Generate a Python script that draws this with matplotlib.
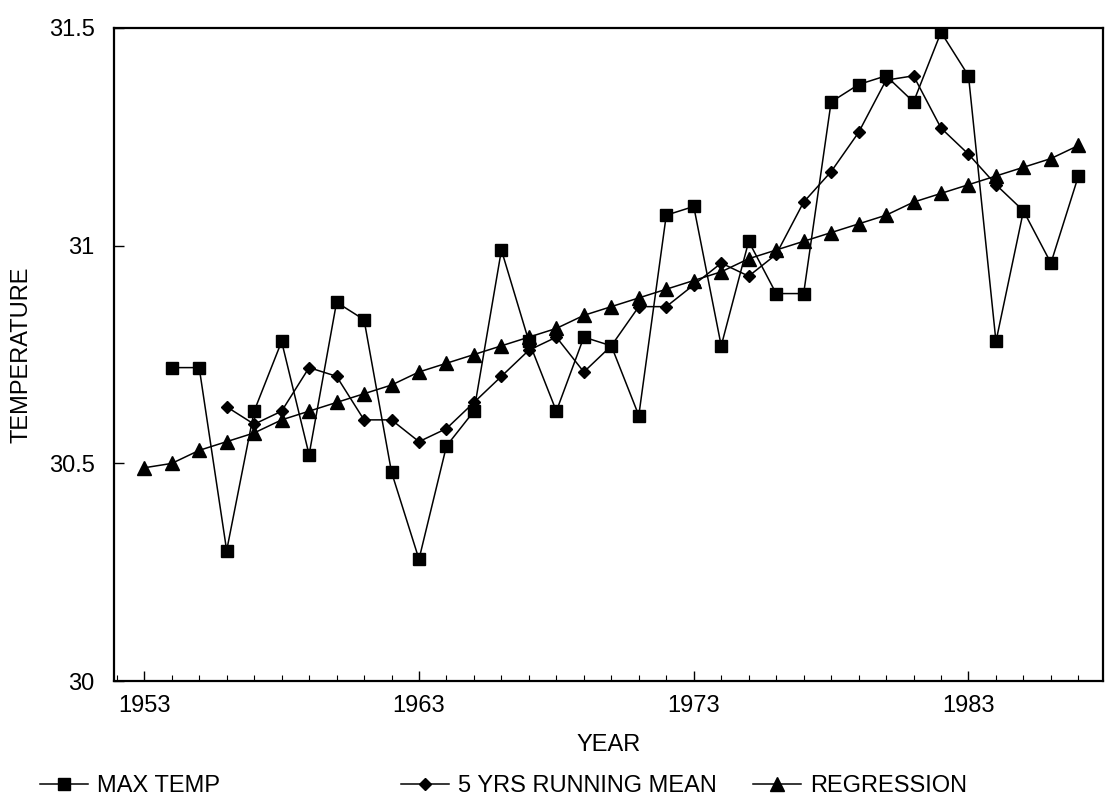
import matplotlib.pyplot as plt
from matplotlib.ticker import MultipleLocator

plt.rcParams['font.family'] = ['Liberation Sans', 'DejaVu Sans']

# years and series
years_max = list(range(1954, 1988))
max_temp = [30.72, 30.72, 30.30, 30.62, 30.78, 30.52, 30.87, 30.83, 30.48, 30.28,
            30.54, 30.62, 30.99, 30.78, 30.62, 30.79, 30.77, 30.61, 31.07, 31.09,
            30.77, 31.01, 30.89, 30.89, 31.33, 31.37, 31.39, 31.33, 31.49, 31.39,
            30.78, 31.08, 30.96, 31.16]

years_mean = list(range(1956, 1986))
running_mean = [30.63, 30.59, 30.62, 30.72, 30.70, 30.60, 30.60, 30.55, 30.58, 30.64,
                30.70, 30.76, 30.79, 30.71, 30.77, 30.86, 30.86, 30.91, 30.96, 30.93,
                30.98, 31.10, 31.17, 31.26, 31.38, 31.39, 31.27, 31.21, 31.14, 31.08]

years_reg = list(range(1953, 1988))
regression = [30.49, 30.50, 30.53, 30.55, 30.57, 30.60, 30.62, 30.64, 30.66, 30.68,
              30.71, 30.73, 30.75, 30.77, 30.79, 30.81, 30.84, 30.86, 30.88, 30.90,
              30.92, 30.94, 30.97, 30.99, 31.01, 31.03, 31.05, 31.07, 31.10, 31.12,
              31.14, 31.16, 31.18, 31.20, 31.23]

xticks = [1953, 1963, 1973, 1983]
yticks = [30, 30.5, 31, 31.5]
ytick_labels = ['30', '30.5', '31', '31.5']

fig = plt.figure(figsize=(11.07, 8.09), dpi=100)
ax = fig.add_axes([0.103, 0.158, 0.8935, 0.8075])

l1, = ax.plot(years_max, max_temp, color='black', lw=1.1, marker='s', ms=8.5,
              label='MAX TEMP')
l2, = ax.plot(years_mean, running_mean, color='black', lw=1.1, marker='D', ms=6.5,
              label='5 YRS RUNNING MEAN')
l3, = ax.plot(years_reg, regression, color='black', lw=1.1, marker='^', ms=9.5,
              label='REGRESSION')

ax.set_xlim(1951.9, 1987.9)
ax.set_ylim(30, 31.5)
ax.set_xticks(xticks)
ax.set_xticklabels([str(y) for y in xticks])
ax.xaxis.set_minor_locator(MultipleLocator(1))
ax.set_yticks(yticks)
ax.set_yticklabels(ytick_labels)
ax.tick_params(axis='both', which='major', direction='in', length=7, width=1,
               labelsize=17, pad=10)
ax.tick_params(axis='y', which='major', pad=14)
ax.tick_params(axis='x', which='minor', direction='in', length=4, width=0.8)

for s in ax.spines.values():
    s.set_linewidth(1.6)

ax.set_xlabel('YEAR', fontsize=17, labelpad=12)
ax.set_ylabel('TEMPERATURE', fontsize=17, labelpad=12)

# legend entries spread along the bottom, each placed on its own
for h, xpos in [(l1, 0.028), (l2, 0.354), (l3, 0.672)]:
    fig.legend(handles=[h], loc='center left', bbox_to_anchor=(xpos, 0.028),
               frameon=False, fontsize=17, handlelength=2.0, handletextpad=0.4,
               borderaxespad=0)

fig.savefig('out.png', dpi=100)
